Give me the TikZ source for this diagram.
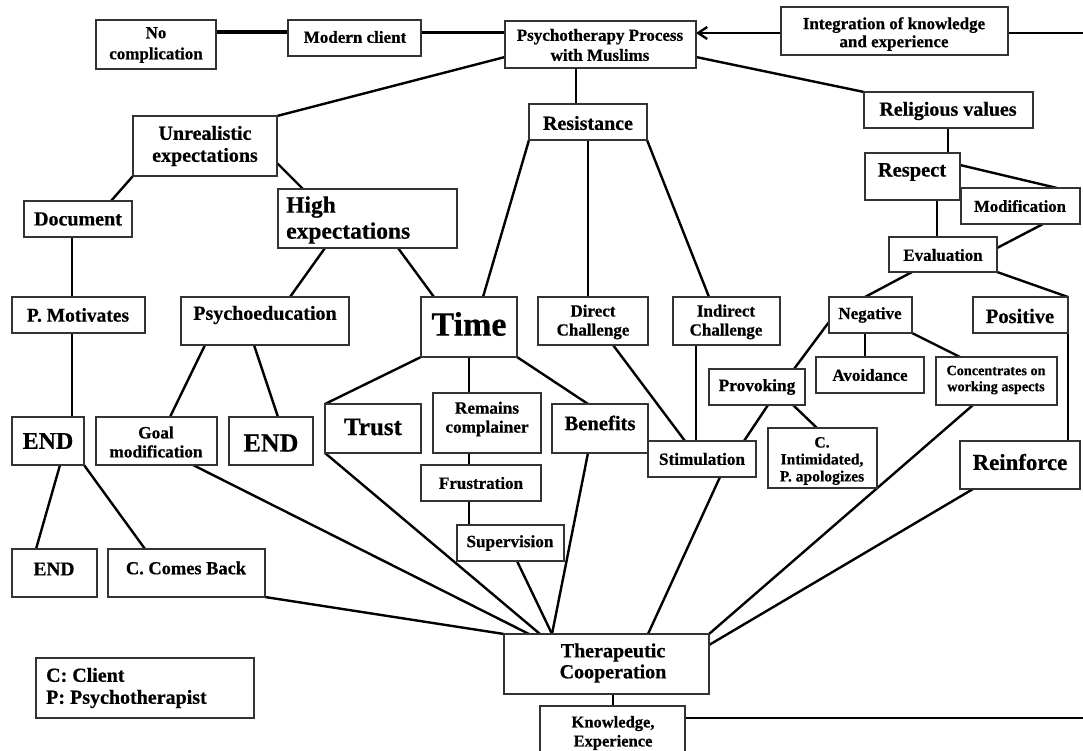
\documentclass[tikz,border=0pt]{standalone}
\usepackage{fontspec}
\setmainfont{Liberation Serif}[BoldFeatures={FakeBold=0.6}]
\usetikzlibrary{calc,arrows.meta,backgrounds}
\newcommand{\tfz}[2]{\fontsize{#1}{#2}\selectfont\bfseries}
\newcommand{\bxn}[5]{\node[bx, minimum width={#4pt-#2pt}, minimum height={#5pt-#3pt}] (#1) at ({(#2+#4)/2},{(#3+#5)/2}) {};}
\begin{document}
\begin{tikzpicture}[x=1pt,y=-1pt,
 bx/.style={draw=black!80, line width=1.2pt, fill=white, inner sep=0pt, outer sep=0pt},
 tx/.style={inner sep=0pt, align=center},
 con/.style={line width=2.4pt, black},
]
\useasboundingbox (0,0) rectangle (1083,751);
% boxes
\bxn{nocomp}{96}{20}{216}{69}
\bxn{modern}{288}{20}{421}{56}
\bxn{psych}{505}{21}{696}{68}
\bxn{integ}{781}{7}{1008}{55}
\bxn{relig}{864}{92}{1033}{128}
\bxn{resist}{529}{104}{647}{140}
\bxn{unreal}{133}{116}{277}{176}
\bxn{doc}{24}{201}{132}{237}
\bxn{high}{278}{189}{457}{248}
\bxn{respect}{865}{153}{960}{200}
\bxn{modif}{961}{188}{1080}{224}
\bxn{eval}{889}{237}{997}{272}
\bxn{pmot}{12}{297}{145}{333}
\bxn{psyed}{181}{297}{349}{345}
\bxn{time}{421}{297}{517}{357}
\bxn{dc}{538}{297}{648}{345}
\bxn{ic}{673}{297}{780}{345}
\bxn{neg}{829}{297}{912}{333}
\bxn{pos}{973}{297}{1068}{333}
\bxn{avoid}{816}{357}{924}{393}
\bxn{conc}{936}{357}{1057}{405}
\bxn{prov}{709}{369}{805}{405}
\bxn{trust}{325}{404}{421}{453}
\bxn{remains}{433}{393}{541}{453}
\bxn{benefits}{552}{404}{648}{453}
\bxn{endA}{12}{417}{84}{465}
\bxn{goal}{96}{417}{217}{465}
\bxn{endB}{229}{417}{313}{465}
\bxn{frust}{421}{465}{541}{501}
\bxn{superv}{457}{525}{564}{561}
\bxn{stim}{648}{441}{756}{477}
\bxn{cint}{768}{428}{877}{488}
\bxn{reinf}{960}{441}{1080}{489}
\bxn{endC}{12}{549}{97}{597}
\bxn{comes}{108}{549}{265}{597}
\bxn{tc}{504}{634}{709}{694}
\bxn{legend}{36}{658}{254}{718}
\bxn{know}{540}{706}{685}{760}
% texts
\node[tx,font=\tfz{17}{21}] (nocomp-t) at (156,45) {No\\complication};
\node[tx,font=\tfz{17}{20}] (modern-t) at (355,37) {Modern client};
\node[tx,font=\tfz{17}{20}] (psych-t) at (600,45) {Psychotherapy Process\\with Muslims};
\node[tx,font=\tfz{17}{18}] (integ-t) at (894,34) {Integration of knowledge\\and experience};
\node[tx,font=\tfz{20}{22}] (relig-t) at (948,111) {Religious values};
\node[tx,font=\tfz{20}{22}] (resist-t) at (588,123) {Resistance};
\node[tx,font=\tfz{20}{22}] (unreal-t) at (205,146) {Unrealistic\\expectations};
\node[tx,font=\tfz{20}{22}] (doc-t) at (78,219) {Document};
\node[tx,font=\tfz{23.5}{26},align=left,anchor=west] (high-t) at (286,220) {High\\expectations};
\node[tx,font=\tfz{20.5}{22}] (respect-t) at (912,172) {Respect};
\node[tx,font=\tfz{16.7}{19}] (modif-t) at (1020,206) {Modification};
\node[tx,font=\tfz{17}{19}] (eval-t) at (943,255) {Evaluation};
\node[tx,font=\tfz{19.5}{22}] (pmot-t) at (78,315) {P. Motivates};
\node[tx,font=\tfz{20}{22}] (psyed-t) at (265,315) {Psychoeducation};
\node[tx,font=\tfz{34}{36}] (time-t) at (469,324) {Time};
\node[tx,font=\tfz{17}{19}] (dc-t) at (593,322) {Direct\\Challenge};
\node[tx,font=\tfz{17}{19}] (ic-t) at (726,322) {Indirect\\Challenge};
\node[tx,font=\tfz{17}{19}] (neg-t) at (870,315) {Negative};
\node[tx,font=\tfz{20.5}{22}] (pos-t) at (1020,316) {Positive};
\node[tx,font=\tfz{17}{19}] (avoid-t) at (870,375) {Avoidance};
\node[tx,font=\tfz{14.2}{16}] (conc-t) at (996,380) {Concentrates on\\working aspects};
\node[tx,font=\tfz{17.3}{19}] (prov-t) at (757,387) {Provoking};
\node[tx,font=\tfz{25}{27}] (trust-t) at (373,427) {Trust};
\node[tx,font=\tfz{17.2}{19}] (remains-t) at (487,419) {Remains\\complainer};
\node[tx,font=\tfz{20.6}{22}] (benefits-t) at (600,423) {Benefits};
\node[tx,font=\tfz{24}{26}] (endA-t) at (48,441) {END};
\node[tx,font=\tfz{17.3}{19}] (goal-t) at (156,442) {Goal\\modification};
\node[tx,font=\tfz{26}{28}] (endB-t) at (271,443) {END};
\node[tx,font=\tfz{17}{19}] (frust-t) at (481,483) {Frustration};
\node[tx,font=\tfz{17.2}{19}] (superv-t) at (510,543) {Supervision};
\node[tx,font=\tfz{17.2}{19}] (stim-t) at (702,459) {Stimulation};
\node[tx,font=\tfz{15.6}{17}] (cint-t) at (822,461) {C.\\Intimidated,\\P. apologizes};
\node[tx,font=\tfz{22.8}{25}] (reinf-t) at (1020,462) {Reinforce};
\node[tx,font=\tfz{19.4}{21}] (endC-t) at (54,569) {END};
\node[tx,font=\tfz{18.4}{20}] (comes-t) at (186,568) {C. Comes Back};
\node[tx,font=\tfz{20}{21}] (tc-t) at (613,663) {Therapeutic\\Cooperation};
\node[tx,font=\tfz{20}{22},align=left,anchor=west] (legend-t) at (46,688) {C: Client\\P: Psychotherapist};
\node[tx,font=\tfz{16.5}{19}] (know-t) at (613,733) {Knowledge,\\Experience};
\coordinate (rightA) at (1083,33);
\coordinate (rightB) at (1083,718);
% connectors
\begin{scope}[on background layer]
\fill[white] (0,0) rectangle (1083,751);
\draw[con,line width=4pt] ($(nocomp.north east)+(0,12)$) -- ($(modern.north west)+(0,12)$);
\draw[con] ($(modern.north east)+(0,12.5)$) -- ($(psych.north west)+(0,11.5)$);
\draw[con,-{Straight Barb[length=9pt,width=12pt]}] ($(integ.north west)+(0,26)$) -- ($(psych.north east)+(0,12)$);
\draw[con] ($(integ.north east)+(0,26)$) -- (rightA);
\draw[con] ($(psych.north west)+(0,36)$) -- (unreal.north east);
\draw[con] ($(psych.south west)+(71,0)$) -- ($(resist.north west)+(47,0)$);
\draw[con] ($(psych.north east)+(0,36)$) -- (relig.north west);
\draw[con] (unreal.south west) -- ($(doc.north west)+(87,0)$);
\draw[con] ($(unreal.south east)+(0,-13)$) -- ($(high.north west)+(25,0)$);
\draw[con] ($(doc.south west)+(48,0)$) -- ($(pmot.north west)+(60,0)$);
\draw[con] ($(pmot.south west)+(60,0)$) -- ($(endA.north west)+(60,0)$);
\draw[con] ($(high.south west)+(47,0)$) -- ($(psyed.north west)+(109,0)$);
\draw[con] ($(high.south west)+(120,0)$) -- ($(time.north west)+(13,0)$);
\draw[con] (resist.south west) -- ($(time.north west)+(62,0)$);
\draw[con] ($(resist.south west)+(59,0)$) -- ($(dc.north west)+(50,0)$);
\draw[con] (resist.south east) -- ($(ic.north west)+(36,0)$);
\draw[con] ($(relig.south west)+(84,0)$) -- ($(respect.north west)+(83,0)$);
\draw[con] ($(respect.north east)+(0,12)$) -- ($(modif.north west)+(96,0)$);
\draw[con] ($(respect.south west)+(72,0)$) -- ($(eval.north west)+(48,0)$);
\draw[con] ($(modif.south west)+(82,0)$) -- ($(eval.north east)+(0,11)$);
\draw[con] ($(psyed.south west)+(24,0)$) -- ($(goal.north west)+(74,0)$);
\draw[con] ($(psyed.south west)+(73,0)$) -- ($(endB.north west)+(49,0)$);
\draw[con] (time.south west) -- (trust.north west);
\draw[con] ($(time.south west)+(48,0)$) -- ($(remains.north west)+(36,0)$);
\draw[con] (time.south east) -- ($(benefits.north west)+(36,0)$);
\draw[con] ($(remains.south west)+(36,0)$) -- ($(frust.north west)+(48,0)$);
\draw[con] ($(frust.south west)+(48,0)$) -- ($(superv.north west)+(12,0)$);
\draw[con] ($(eval.south west)+(23,0)$) -- ($(neg.north west)+(36,0)$);
\draw[con] (eval.south east) -- (pos.north east);
\draw[con] (pos.south east) -- ($(reinf.north east)+(-12,0)$);
\draw[con] ($(neg.north west)+(0,25)$) -- ($(prov.north west)+(85,0)$);
\draw[con] ($(neg.south west)+(36,0)$) -- ($(avoid.north west)+(49,0)$);
\draw[con] (neg.south east) -- ($(conc.north west)+(24,0)$);
\draw[con] ($(prov.south west)+(84,0)$) -- ($(cint.north west)+(49,0)$);
\draw[con] ($(prov.south west)+(59,0)$) -- ($(stim.north west)+(96,0)$);
\draw[con] ($(dc.south west)+(75,0)$) -- ($(stim.north west)+(37,0)$);
\draw[con] ($(ic.south west)+(23,0)$) -- ($(stim.north west)+(48,0)$);
\draw[con] ($(endA.south west)+(48,0)$) -- ($(endC.north west)+(24,0)$);
\draw[con] (endA.south east) -- ($(comes.north west)+(37,0)$);
\draw[con] (comes.south east) -- (tc.north west);
\draw[con] ($(goal.south west)+(97,0)$) -- ($(tc.north west)+(25,0)$);
\draw[con] (trust.south west) -- ($(tc.north west)+(36,0)$);
\draw[con] ($(superv.south west)+(60,0)$) -- ($(tc.north west)+(48,0)$);
\draw[con] ($(benefits.south west)+(36,0)$) -- ($(tc.north west)+(48,0)$);
\draw[con] ($(stim.south west)+(72,0)$) -- ($(tc.north west)+(144,0)$);
\draw[con] ($(conc.south west)+(37,0)$) -- (tc.north east);
\draw[con] ($(reinf.south west)+(13,0)$) -- ($(tc.north east)+(0,11)$);
\draw[con] ($(tc.south west)+(109,0)$) -- ($(know.north west)+(73,0)$);
\draw[con] ($(know.north east)+(0,12)$) -- (rightB);
\end{scope}
\end{tikzpicture}
\end{document}
